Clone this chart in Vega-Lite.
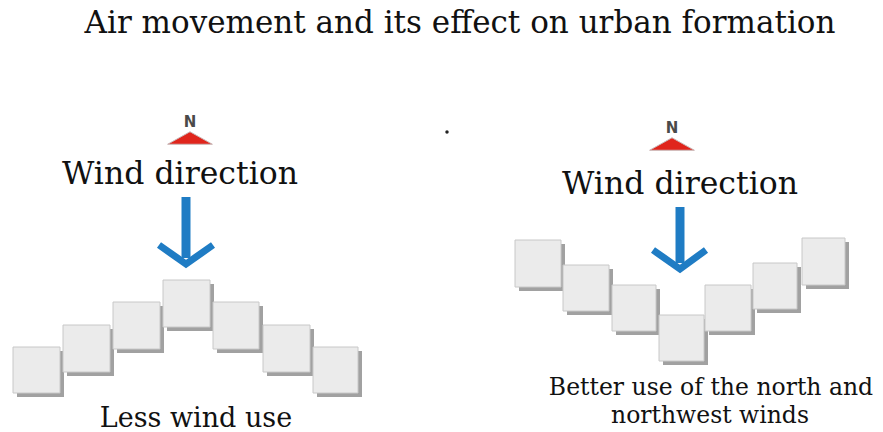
{
  "$schema": "https://vega.github.io/schema/vega-lite/v6.json",
  "width": 883,
  "height": 432,
  "autosize": {"type": "fit", "contains": "padding"},
  "padding": 0,
  "background": "white",
  "config": {"view": {"stroke": null}},
  "datasets": {
    "boxes": [
      {"side": "left", "i": 1, "x1": 13, "x2": 60, "y1": 347, "y2": 393},
      {"side": "left", "i": 2, "x1": 63, "x2": 110, "y1": 325, "y2": 372},
      {"side": "left", "i": 3, "x1": 113, "x2": 160, "y1": 302, "y2": 349},
      {"side": "left", "i": 4, "x1": 163, "x2": 210, "y1": 280, "y2": 327},
      {"side": "left", "i": 5, "x1": 213, "x2": 259, "y1": 302, "y2": 349},
      {"side": "left", "i": 6, "x1": 263, "x2": 310, "y1": 325, "y2": 372},
      {"side": "left", "i": 7, "x1": 313, "x2": 358, "y1": 347, "y2": 393},
      {"side": "right", "i": 1, "x1": 515, "x2": 561, "y1": 240, "y2": 287},
      {"side": "right", "i": 2, "x1": 563, "x2": 609, "y1": 265, "y2": 311},
      {"side": "right", "i": 3, "x1": 612, "x2": 656, "y1": 285, "y2": 331},
      {"side": "right", "i": 4, "x1": 659, "x2": 704, "y1": 315, "y2": 361},
      {"side": "right", "i": 5, "x1": 705, "x2": 751, "y1": 285, "y2": 331},
      {"side": "right", "i": 6, "x1": 753, "x2": 797, "y1": 263, "y2": 309},
      {"side": "right", "i": 7, "x1": 802, "x2": 845, "y1": 238, "y2": 285}
    ],
    "shafts": [
      {"side": "left", "x": 186, "y1": 197, "y2": 258},
      {"side": "right", "x": 680, "y1": 207, "y2": 263}
    ],
    "heads": [
      {"side": "left", "o": 1, "x": 159, "y": 245},
      {"side": "left", "o": 2, "x": 186, "y": 264},
      {"side": "left", "o": 3, "x": 213, "y": 245},
      {"side": "right", "o": 1, "x": 653, "y": 250},
      {"side": "right", "o": 2, "x": 680, "y": 269},
      {"side": "right", "o": 3, "x": 706, "y": 250}
    ],
    "north": [
      {"side": "left", "x": 190, "yN": 122, "yT": 138, "label": "N"},
      {"side": "right", "x": 672, "yN": 128, "yT": 144, "label": "N"}
    ],
    "title": [
      {"x": 460, "y": 33, "label": "Air movement and its effect on urban formation"}
    ],
    "wind": [
      {"x": 180, "y": 184, "label": "Wind direction"},
      {"x": 680, "y": 194, "label": "Wind direction"}
    ],
    "less": [
      {"x": 196, "y": 427, "label": "Less wind use"}
    ],
    "better": [
      {"x": 711, "y": 395, "label": "Better use of the north and"},
      {"x": 710, "y": 423, "label": "northwest winds"}
    ],
    "dot": [
      {"x": 447, "y": 132}
    ]
  },
  "layer": [
    {
      "data": {"name": "boxes"},
      "mark": {"type": "rect", "fill": "#8a8a8a", "opacity": 0.8, "xOffset": 4, "yOffset": 4, "x2Offset": 4, "y2Offset": 4},
      "encoding": {
        "x": {"field": "x1", "type": "quantitative", "scale": {"domain": [0, 883], "nice": false, "zero": false}, "axis": null},
        "x2": {"field": "x2"},
        "y": {"field": "y1", "type": "quantitative", "scale": {"domain": [0, 432], "nice": false, "zero": false, "reverse": true}, "axis": null},
        "y2": {"field": "y2"}
      }
    },
    {
      "data": {"name": "boxes"},
      "mark": {"type": "rect", "fill": "#ebebeb", "stroke": "#c8c8c8", "strokeWidth": 1},
      "encoding": {
        "x": {"field": "x1", "type": "quantitative"},
        "x2": {"field": "x2"},
        "y": {"field": "y1", "type": "quantitative"},
        "y2": {"field": "y2"}
      }
    },
    {
      "data": {"name": "shafts"},
      "mark": {"type": "rule", "stroke": "#1f7cc4", "strokeWidth": 9},
      "encoding": {
        "x": {"field": "x", "type": "quantitative"},
        "y": {"field": "y1", "type": "quantitative"},
        "y2": {"field": "y2"}
      }
    },
    {
      "data": {"name": "heads"},
      "mark": {"type": "line", "stroke": "#1f7cc4", "strokeWidth": 7, "strokeJoin": "miter", "strokeCap": "butt"},
      "encoding": {
        "x": {"field": "x", "type": "quantitative"},
        "y": {"field": "y", "type": "quantitative"},
        "detail": {"field": "side"},
        "order": {"field": "o"}
      }
    },
    {
      "data": {"name": "north"},
      "mark": {"type": "point", "shape": "M-1,0.28L0,-0.28L1,0.28Z", "filled": true, "fill": "#e0251c", "opacity": 1, "size": 2000, "stroke": "#c9b9b9", "strokeWidth": 1},
      "encoding": {
        "x": {"field": "x", "type": "quantitative"},
        "y": {"field": "yT", "type": "quantitative"}
      }
    },
    {
      "data": {"name": "north"},
      "mark": {"type": "text", "font": "DejaVu Sans", "fontWeight": "bold", "fontSize": 15, "fill": "#4a4a4a", "baseline": "middle", "align": "center"},
      "encoding": {
        "x": {"field": "x", "type": "quantitative"},
        "y": {"field": "yN", "type": "quantitative"},
        "text": {"field": "label"}
      }
    },
    {
      "data": {"name": "title"},
      "mark": {"type": "text", "font": "DejaVu Serif", "fontSize": 31, "fill": "#111111", "baseline": "alphabetic", "align": "center"},
      "encoding": {
        "x": {"field": "x", "type": "quantitative"},
        "y": {"field": "y", "type": "quantitative"},
        "text": {"field": "label"}
      }
    },
    {
      "data": {"name": "wind"},
      "mark": {"type": "text", "font": "DejaVu Serif", "fontSize": 31.5, "fill": "#111111", "baseline": "alphabetic", "align": "center"},
      "encoding": {
        "x": {"field": "x", "type": "quantitative"},
        "y": {"field": "y", "type": "quantitative"},
        "text": {"field": "label"}
      }
    },
    {
      "data": {"name": "less"},
      "mark": {"type": "text", "font": "DejaVu Serif", "fontSize": 27, "fill": "#111111", "baseline": "alphabetic", "align": "center"},
      "encoding": {
        "x": {"field": "x", "type": "quantitative"},
        "y": {"field": "y", "type": "quantitative"},
        "text": {"field": "label"}
      }
    },
    {
      "data": {"name": "better"},
      "mark": {"type": "text", "font": "DejaVu Serif", "fontSize": 23.5, "fill": "#111111", "baseline": "alphabetic", "align": "center"},
      "encoding": {
        "x": {"field": "x", "type": "quantitative"},
        "y": {"field": "y", "type": "quantitative"},
        "text": {"field": "label"}
      }
    },
    {
      "data": {"name": "dot"},
      "mark": {"type": "point", "shape": "circle", "filled": true, "fill": "#222222", "opacity": 1, "size": 12},
      "encoding": {
        "x": {"field": "x", "type": "quantitative"},
        "y": {"field": "y", "type": "quantitative"}
      }
    }
  ]
}
